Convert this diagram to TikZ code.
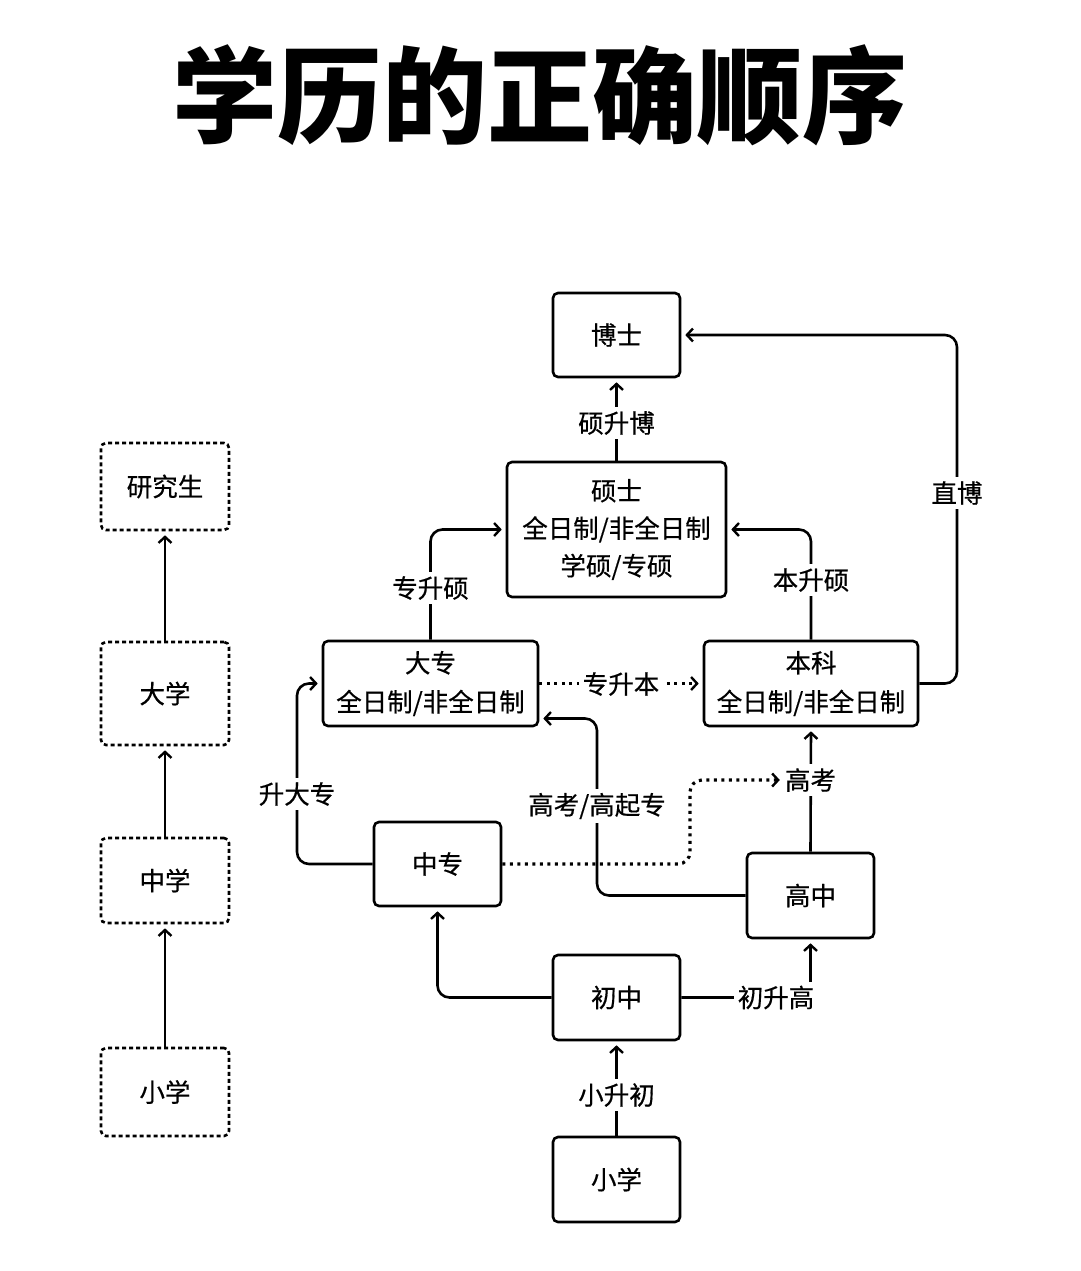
\documentclass[tikz,border=0pt]{standalone}
\usepackage{fontspec}
\setmainfont{Noto Sans CJK SC}[FakeBold=0.5]
\newfontfamily\titlefont{Noto Sans CJK SC}
\usetikzlibrary{arrows.meta,calc}
\begin{document}
\begin{tikzpicture}[x=1pt,y=-1pt,
  box/.style={draw, line width=2.6pt, rounded corners=5pt, inner sep=0pt, align=center, font=\fontsize{25.5}{39}\selectfont},
  dbox/.style={box, dash pattern=on 4pt off 3pt},
  conn/.style={line width=2.6pt, rounded corners=12pt, -{Straight Barb[length=6pt,width=13pt,line width=2.4pt]}, shorten >=4pt},
  dotconn/.style={conn, line width=3.2pt, dash pattern=on 3pt off 4.5pt},
  lab/.style={fill=white, inner sep=4pt, font=\fontsize{25.5}{28}\selectfont}
]
\fill[white] (0,0) rectangle (1080,1271);
\useasboundingbox (0,0) rectangle (1080,1271);

\node[font=\titlefont\fontsize{105}{115}\bfseries] (title) at (540,95) {学历的正确顺序};

% right graph nodes
\node[box, minimum width=127pt, minimum height=84pt] (boshi) at (616.5,335) {博士};
\node[box, minimum width=219pt, minimum height=135pt, font=\fontsize{25.5}{37.5}\selectfont] (shuoshi) at (616.5,529.5) {硕士\\全日制/非全日制\\学硕/专硕};
\node[box, minimum width=215pt, minimum height=85pt] (dazhuan) at (430.5,683.5) {大专\\全日制/非全日制};
\node[box, minimum width=214pt, minimum height=85pt] (benke) at (811,683.5) {本科\\全日制/非全日制};
\node[box, minimum width=127pt, minimum height=84pt] (zhongzhuan) at (437.5,864) {中专};
\node[box, minimum width=127pt, minimum height=85pt] (gaozhong) at (810.5,895.5) {高中};
\node[box, minimum width=127pt, minimum height=85pt] (chuzhong) at (616.5,997.5) {初中};
\node[box, minimum width=127pt, minimum height=85pt] (xiaoxue) at (616.5,1179.5) {小学};

% left column
\node[dbox, minimum width=128pt, minimum height=87pt] (yjs) at (165,486.5) {研究生};
\node[dbox, minimum width=128pt, minimum height=103pt] (daxue) at (165,693.5) {大学};
\node[dbox, minimum width=128pt, minimum height=85pt] (zhongxue) at (165,880.5) {中学};
\node[dbox, minimum width=128pt, minimum height=88pt] (xx2) at (165,1092) {小学};

\draw[conn] (xx2.north) -- (zhongxue.south);
\draw[conn] (zhongxue.north) -- (daxue.south);
\draw[conn] (daxue.north) -- (yjs.south);

% connectors
\draw[conn] (shuoshi.north) -- (boshi.south);
\draw[conn] (benke.east) -- (957,683.5) -- (957,335) -- (boshi.east);
\draw[conn] (dazhuan.north) |- (shuoshi.west);
\draw[conn] (benke.north) |- (shuoshi.east);
\draw[dotconn] (dazhuan.east) -- (benke.west);
\draw[conn] (zhongzhuan.west) -- (297,864) -- (297,683.5) -- (dazhuan.west);
\coordinate (dzin) at ($(dazhuan.east)+(0,35)$);
\draw[conn] (gaozhong.west) -- (597,895.5) -- (597,718.5) -- (dzin);
\draw[conn] (gaozhong.north) -- (benke.south);
\node[lab] (gk) at (810.5,780) {高考};
\draw[dotconn, shorten >=1pt] (zhongzhuan.east) -- (690,864) -- (690,780) -- (gk.west);
\draw[conn] (chuzhong.west) -| (zhongzhuan.south);
\draw[conn] (chuzhong.east) -| (gaozhong.south);
\draw[conn] (xiaoxue.north) -- (chuzhong.south);

% labels
\node[lab] (l1) at (616.5,423) {硕升博};
\node[lab] (l2) at (957,493) {直博};
\node[lab] (l3) at (430.5,588) {专升硕};
\node[lab] (l4) at (811,580) {本升硕};
\node[lab] (l5) at (621,684) {专升本};
\node[lab] (l6) at (297,794) {升大专};
\node[lab] (l7) at (597,806) {高考/高起专};
\node[lab] (l8) at (776,997.5) {初升高};
\node[lab] (l9) at (616.5,1095) {小升初};
\end{tikzpicture}
\end{document}
